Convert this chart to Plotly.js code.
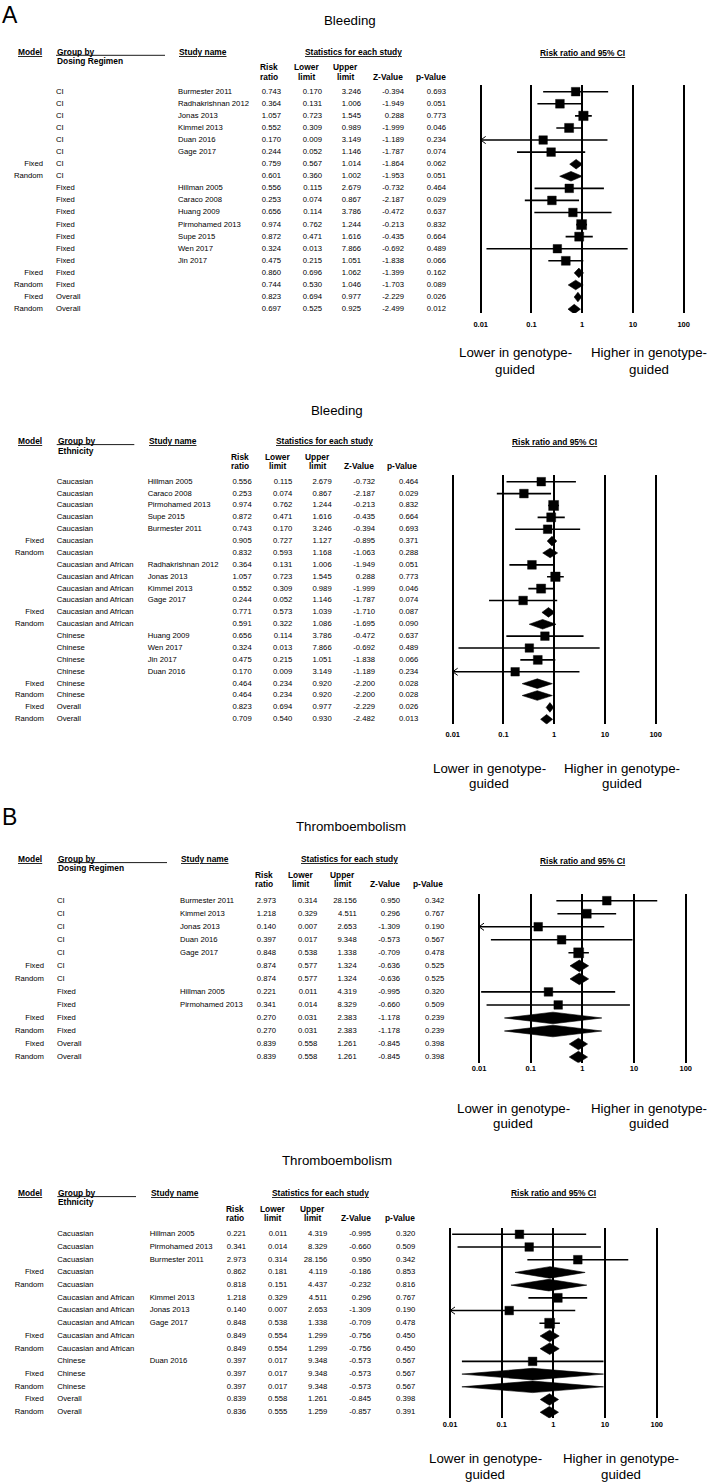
<!DOCTYPE html>
<html><head><meta charset="utf-8">
<script src="https://cdn.plot.ly/plotly-3.0.1.min.js"></script>
<style>html,body{margin:0;padding:0;background:#fff}#chart{width:709px;height:1483px}</style>
</head><body><div id="chart"></div>
<script>
// ===================== DATA =====================
// Panel A (top): Bleeding, grouped by dosing regimen
const a1Model = ['', '', '', '', '', '', 'Fixed', 'Random', '', '', '', '', '', '', '', 'Fixed', 'Random', 'Fixed', 'Random'];
const a1Group = ['CI', 'CI', 'CI', 'CI', 'CI', 'CI', 'CI', 'CI', 'Fixed', 'Fixed', 'Fixed', 'Fixed', 'Fixed', 'Fixed', 'Fixed', 'Fixed', 'Fixed', 'Overall', 'Overall'];
const a1Study = ['Burmester 2011', 'Radhakrishnan 2012', 'Jonas 2013', 'Kimmel 2013', 'Duan 2016', 'Gage 2017', '', '', 'Hillman 2005', 'Caraco 2008', 'Huang 2009', 'Pirmohamed 2013', 'Supe 2015', 'Wen 2017', 'Jin 2017', '', '', '', ''];
const a1RR = [0.743, 0.364, 1.057, 0.552, 0.170, 0.244, 0.759, 0.601, 0.556, 0.253, 0.656, 0.974, 0.872, 0.324, 0.475, 0.860, 0.744, 0.823, 0.697];
const a1Lower = [0.170, 0.131, 0.723, 0.309, 0.009, 0.052, 0.567, 0.360, 0.115, 0.074, 0.114, 0.762, 0.471, 0.013, 0.215, 0.696, 0.530, 0.694, 0.525];
const a1Upper = [3.246, 1.006, 1.545, 0.989, 3.149, 1.146, 1.014, 1.002, 2.679, 0.867, 3.786, 1.244, 1.616, 7.866, 1.051, 1.062, 1.046, 0.977, 0.925];
const a1Z = [-0.394, -1.949, 0.288, -1.999, -1.189, -1.787, -1.864, -1.953, -0.732, -2.187, -0.472, -0.213, -0.435, -0.692, -1.838, -1.399, -1.703, -2.229, -2.499];
const a1P = [0.693, 0.051, 0.773, 0.046, 0.234, 0.074, 0.062, 0.051, 0.464, 0.029, 0.637, 0.832, 0.664, 0.489, 0.066, 0.162, 0.089, 0.026, 0.012];

// Panel A (bottom): Bleeding, grouped by ethnicity
const a2Model = ['', '', '', '', '', 'Fixed', 'Random', '', '', '', '', 'Fixed', 'Random', '', '', '', '', 'Fixed', 'Random', 'Fixed', 'Random'];
const a2Group = ['Caucasian', 'Caucasian', 'Caucasian', 'Caucasian', 'Caucasian', 'Caucasian', 'Caucasian',
  'Caucasian and African', 'Caucasian and African', 'Caucasian and African', 'Caucasian and African', 'Caucasian and African', 'Caucasian and African',
  'Chinese', 'Chinese', 'Chinese', 'Chinese', 'Chinese', 'Chinese', 'Overall', 'Overall'];
const a2Study = ['Hillman 2005', 'Caraco 2008', 'Pirmohamed 2013', 'Supe 2015', 'Burmester 2011', '', '', 'Radhakrishnan 2012', 'Jonas 2013', 'Kimmel 2013', 'Gage 2017', '', '', 'Huang 2009', 'Wen 2017', 'Jin 2017', 'Duan 2016', '', '', '', ''];
const a2RR = [0.556, 0.253, 0.974, 0.872, 0.743, 0.905, 0.832, 0.364, 1.057, 0.552, 0.244, 0.771, 0.591, 0.656, 0.324, 0.475, 0.170, 0.464, 0.464, 0.823, 0.709];
const a2Lower = [0.115, 0.074, 0.762, 0.471, 0.170, 0.727, 0.593, 0.131, 0.723, 0.309, 0.052, 0.573, 0.322, 0.114, 0.013, 0.215, 0.009, 0.234, 0.234, 0.694, 0.540];
const a2Upper = [2.679, 0.867, 1.244, 1.616, 3.246, 1.127, 1.168, 1.006, 1.545, 0.989, 1.146, 1.039, 1.086, 3.786, 7.866, 1.051, 3.149, 0.920, 0.920, 0.977, 0.930];
const a2Z = [-0.732, -2.187, -0.213, -0.435, -0.394, -0.895, -1.063, -1.949, 0.288, -1.999, -1.787, -1.710, -1.695, -0.472, -0.692, -1.838, -1.189, -2.200, -2.200, -2.229, -2.482];
const a2P = [0.464, 0.029, 0.832, 0.664, 0.693, 0.371, 0.288, 0.051, 0.773, 0.046, 0.074, 0.087, 0.090, 0.637, 0.489, 0.066, 0.234, 0.028, 0.028, 0.026, 0.013];

// Panel B (top): Thromboembolism, grouped by dosing regimen
const b1Model = ['', '', '', '', '', 'Fixed', 'Random', '', '', 'Fixed', 'Random', 'Fixed', 'Random'];
const b1Group = ['CI', 'CI', 'CI', 'CI', 'CI', 'CI', 'CI', 'Fixed', 'Fixed', 'Fixed', 'Fixed', 'Overall', 'Overall'];
const b1Study = ['Burmester 2011', 'Kimmel 2013', 'Jonas 2013', 'Duan 2016', 'Gage 2017', '', '', 'Hillman 2005', 'Pirmohamed 2013', '', '', '', ''];
const b1RR = [2.973, 1.218, 0.140, 0.397, 0.848, 0.874, 0.874, 0.221, 0.341, 0.270, 0.270, 0.839, 0.839];
const b1Lower = [0.314, 0.329, 0.007, 0.017, 0.538, 0.577, 0.577, 0.011, 0.014, 0.031, 0.031, 0.558, 0.558];
const b1Upper = [28.156, 4.511, 2.653, 9.348, 1.338, 1.324, 1.324, 4.319, 8.329, 2.383, 2.383, 1.261, 1.261];
const b1Z = [0.950, 0.296, -1.309, -0.573, -0.709, -0.636, -0.636, -0.995, -0.660, -1.178, -1.178, -0.845, -0.845];
const b1P = [0.342, 0.767, 0.190, 0.567, 0.478, 0.525, 0.525, 0.320, 0.509, 0.239, 0.239, 0.398, 0.398];

// Panel B (bottom): Thromboembolism, grouped by ethnicity
const b2Model = ['', '', '', 'Fixed', 'Random', '', '', '', 'Fixed', 'Random', '', 'Fixed', 'Random', 'Fixed', 'Random'];
const b2Group = ['Cacuasian', 'Cacuasian', 'Cacuasian', 'Cacuasian', 'Cacuasian',
  'Caucasian and African', 'Caucasian and African', 'Caucasian and African', 'Caucasian and African', 'Caucasian and African',
  'Chinese', 'Chinese', 'Chinese', 'Overall', 'Overall'];
const b2Study = ['Hillman 2005', 'Pirmohamed 2013', 'Burmester 2011', '', '', 'Kimmel 2013', 'Jonas 2013', 'Gage 2017', '', '', 'Duan 2016', '', '', '', ''];
const b2RR = [0.221, 0.341, 2.973, 0.862, 0.818, 1.218, 0.140, 0.848, 0.849, 0.849, 0.397, 0.397, 0.397, 0.839, 0.836];
const b2Lower = [0.011, 0.014, 0.314, 0.181, 0.151, 0.329, 0.007, 0.538, 0.554, 0.554, 0.017, 0.017, 0.017, 0.558, 0.555];
const b2Upper = [4.319, 8.329, 28.156, 4.119, 4.437, 4.511, 2.653, 1.338, 1.299, 1.299, 9.348, 9.348, 9.348, 1.261, 1.259];
const b2Z = [-0.995, -0.660, 0.950, -0.186, -0.232, 0.296, -1.309, -0.709, -0.756, -0.756, -0.573, -0.573, -0.573, -0.845, -0.857];
const b2P = [0.320, 0.509, 0.342, 0.853, 0.816, 0.767, 0.190, 0.478, 0.450, 0.450, 0.567, 0.567, 0.567, 0.398, 0.391];

// Axis tick labels and text labels
const tickVals = [0.01, 0.1, 1, 10, 100];
const tickLabels = ['0.01', '0.1', '1', '10', '100'];
const colHead1 = ['Risk', 'Lower', 'Upper', '', ''];
const colHead2 = ['ratio', 'limit', 'limit', 'Z-Value', 'p-Value'];

// ===================== LAYOUT (pixel positions) =====================
const W = 709, H = 1483;
const FONT = '"Liberation Sans", Arial, sans-serif';
const px = x => x / W;
const py = y => 1 - y / H;

const panels = [
  { model: a1Model, group: a1Group, study: a1Study, rr: a1RR, lo: a1Lower, hi: a1Upper, z: a1Z, p: a1P,
    title: 'Bleeding', groupHead: 'Dosing Regimen', letter: 'A',
    L: { letterY: 15, titleX: 350, titleY: 20, headY: 51.7, head2Y: 61, colY1: 66.7, colY2: 76.7,
      colX: [269, 306.3, 345.3, 388, 430.5], numRight: [281, 322, 361, 404, 446],
      modelRight: 43, groupX: 56, studyX: 178, groupLineEnd: 165, statX: 353.3,
      rrTitleX: 582.7, rrTitleY: 53.3, f001: 480.7, f100: 683.7, lineTop: 85, lineBot: 313,
      row0: 91.7, rowH: 12.08, tickY: 324, lowerX: 515, higherX: 649, lhY1: 352.7, lhY2: 369.5, diamHalf: 4.8 } },
  { model: a2Model, group: a2Group, study: a2Study, rr: a2RR, lo: a2Lower, hi: a2Upper, z: a2Z, p: a2P,
    title: 'Bleeding', groupHead: 'Ethnicity', letter: null,
    L: { titleX: 336.7, titleY: 410, headY: 441, head2Y: 450.7, colY1: 456.7, colY2: 466,
      colX: [240.3, 277, 317, 358.7, 402], numRight: [251.7, 292.3, 331.7, 375, 418.3],
      modelRight: 44, groupX: 56.7, studyX: 147.7, groupLineEnd: 134.3, statX: 324,
      rrTitleX: 554.3, rrTitleY: 441.7, f001: 452.7, f100: 655.7, lineTop: 475, lineBot: 724.3,
      row0: 481.7, rowH: 11.88, tickY: 734.3, lowerX: 489.2, higherX: 621.7, lhY1: 768.3, lhY2: 783.3, diamHalf: 4.8 } },
  { model: b1Model, group: b1Group, study: b1Study, rr: b1RR, lo: b1Lower, hi: b1Upper, z: b1Z, p: b1P,
    title: 'Thromboembolism', groupHead: 'Dosing Regimen', letter: 'B',
    L: { letterY: 817, titleX: 351.3, titleY: 826, headY: 859, head2Y: 868.3, colY1: 875, colY2: 884.3,
      colX: [264.2, 300.3, 342, 384.7, 428], numRight: [276, 317.3, 356.7, 400, 444.3],
      modelRight: 44, groupX: 57, studyX: 180, groupLineEnd: 167, statX: 349.7,
      rrTitleX: 582.7, rrTitleY: 861, f001: 479, f100: 685.7, lineTop: 894, lineBot: 1062.7,
      row0: 900.7, rowH: 13.03, tickY: 1075, lowerX: 513.3, higherX: 648.8, lhY1: 1108, lhY2: 1123, diamHalf: 5.8 } },
  { model: b2Model, group: b2Group, study: b2Study, rr: b2RR, lo: b2Lower, hi: b2Upper, z: b2Z, p: b2P,
    title: 'Thromboembolism', groupHead: 'Ethnicity', letter: null,
    L: { titleX: 336.7, titleY: 1160.7, headY: 1193, head2Y: 1202.3, colY1: 1209, colY2: 1218.3,
      colX: [234.5, 272, 312, 355.5, 399.7], numRight: [246, 287.3, 327.3, 371, 415.3],
      modelRight: 43.7, groupX: 57.3, studyX: 149.7, groupLineEnd: 136, statX: 320.3,
      rrTitleX: 553.3, rrTitleY: 1193.3, f001: 450, f100: 656.7, lineTop: 1227.7, lineBot: 1418.3,
      row0: 1234.3, rowH: 12.71, tickY: 1430, lowerX: 485, higherX: 620.8, lhY1: 1458.3, lhY2: 1474.3, diamHalf: 5.8 } }
];

const traces = [];
const annotations = [];
const shapes = [];
const layout = {
  width: W, height: H, autosize: false,
  margin: { l: 0, r: 0, t: 0, b: 0, pad: 0 },
  paper_bgcolor: '#ffffff', plot_bgcolor: 'rgba(0,0,0,0)',
  showlegend: false, hovermode: false,
  colorway: ['#000000'],
  font: { family: FONT, color: '#000000' }
};

const headSize = 8.4;

function ann(text, x, y, xanchor, size) {
  annotations.push({
    text: text, xref: 'paper', yref: 'paper', x: px(x), y: py(y),
    xanchor: xanchor, yanchor: 'middle', showarrow: false, borderpad: 0,
    font: { family: FONT, size: size, color: '#000000' }
  });
}

panels.forEach((P, k) => {
  const L = P.L;
  const xfName = k === 0 ? 'xaxis' : 'xaxis' + (k + 1);
  const yfName = k === 0 ? 'yaxis' : 'yaxis' + (k + 1);
  const xf = 'x' + (k + 1), yf = 'y' + (k + 1), xt = 'x' + (k + 5);
  const dec = (L.f100 - L.f001) / 4;
  const rows = P.rr.map((_, i) => i);

  // ---- axes ----
  layout[xfName] = {
    type: 'log', domain: [px(L.f001 - 0.2 * dec), px(L.f100 + 0.2 * dec)], range: [-2.2, 2.2],
    anchor: yf, tickmode: 'array', tickvals: tickVals, ticktext: tickLabels.map(t => '<b>' + t + '</b>'),
    showgrid: true, gridcolor: '#000000', gridwidth: 2, zeroline: false, showline: false,
    ticks: '', ticklabelstandoff: Math.max(0, L.tickY - L.lineBot - 6),
    tickfont: { family: FONT, size: 7.5, color: '#000000' }, fixedrange: true
  };
  layout[yfName] = {
    domain: [py(L.lineBot), py(L.lineTop)],
    range: [(L.lineBot - L.row0) / L.rowH, (L.lineTop - L.row0) / L.rowH],
    anchor: xf, visible: false, showgrid: false, zeroline: false, fixedrange: true
  };
  layout['xaxis' + (k + 5)] = { domain: [0, 1], range: [0, W], anchor: yf, visible: false, showgrid: false, zeroline: false, fixedrange: true };

  // ---- table text ----
  const textTrace = (xpos, txt, pos) => ({
    type: 'scatter', mode: 'text', xaxis: xt, yaxis: yf, opacity: 1,
    x: rows.map(() => xpos), y: rows, text: txt, textposition: pos,
    textfont: { family: FONT, size: 7.7, color: '#000000' }, cliponaxis: false, hoverinfo: 'skip'
  });
  traces.push(textTrace(L.modelRight, P.model, 'middle left'));
  traces.push(textTrace(L.groupX, P.group, 'middle right'));
  traces.push(textTrace(L.studyX, P.study, 'middle right'));
  [P.rr, P.lo, P.hi, P.z, P.p].forEach((arr, c) => {
    traces.push(textTrace(L.numRight[c], arr.map(v => v.toFixed(3)), 'middle left'));
  });

  // ---- forest marks ----
  const isStudy = P.model.map(m => m === '');
  const se = rows.map(i => (Math.log(P.hi[i]) - Math.log(P.lo[i])) / 3.92);
  const w = se.map(s => 1 / (s * s));
  const wMax = Math.max(...rows.filter(i => isStudy[i]).map(i => w[i]));
  const lx = [], ly = [], ax = [], ay = [], sx = [], sy = [], ss = [], dx = [], dy = [];
  const dh = L.diamHalf / L.rowH;
  const arrowF = Math.pow(10, 5 / dec), arrowH = 3.6 / L.rowH;
  rows.forEach(i => {
    if (isStudy[i]) {
      const lo = Math.max(P.lo[i], tickVals[0]);
      lx.push(lo, P.hi[i], null); ly.push(i, i, null);
      if (P.lo[i] < tickVals[0]) {
        ax.push(lo * arrowF, lo, lo * arrowF, null);
        ay.push(i - arrowH, i, i + arrowH, null);
      }
      sx.push(P.rr[i]); sy.push(i); ss.push(8.4 + 1.6 * Math.sqrt(w[i] / wMax));
    } else {
      dx.push(P.lo[i], P.rr[i], P.hi[i], P.rr[i], P.lo[i], null);
      dy.push(i, i - dh, i, i + dh, i, null);
    }
  });
  traces.push({ type: 'scatter', mode: 'lines', xaxis: xf, yaxis: yf, x: lx, y: ly, opacity: 1,
    line: { color: '#000000', width: 1.6 }, hoverinfo: 'skip', cliponaxis: false });
  traces.push({ type: 'scatter', mode: 'lines', xaxis: xf, yaxis: yf, x: ax, y: ay, opacity: 1,
    line: { color: '#000000', width: 1 }, hoverinfo: 'skip', cliponaxis: false });
  traces.push({ type: 'scatter', mode: 'markers', xaxis: xf, yaxis: yf, x: sx, y: sy, opacity: 1,
    marker: { symbol: 'square', size: ss, color: '#000000', opacity: 1, line: { width: 0.4, color: '#000000' } },
    hoverinfo: 'skip', cliponaxis: false });
  traces.push({ type: 'scatter', mode: 'lines', xaxis: xf, yaxis: yf, x: dx, y: dy, fill: 'toself', opacity: 1,
    fillcolor: '#000000', line: { color: '#000000', width: 0.6 }, hoverinfo: 'skip', cliponaxis: false });

  // ---- headers & labels ----
  if (P.letter) ann(P.letter, 1, L.letterY, 'left', 23);
  ann(P.title, L.titleX, L.titleY, 'center', 13.3);
  ann('<b><u>Model</u></b>', 16.7, L.headY, 'left', headSize);
  ann('<b>Group by</b>', L.groupX, L.headY, 'left', headSize);
  ann('<b>' + P.groupHead + '</b>', L.groupX, L.head2Y, 'left', headSize);
  ann('<b><u>Study name</u></b>', L.studyX, L.headY, 'left', headSize);
  ann('<b><u>Statistics for each study</u></b>', L.statX, L.headY, 'center', headSize);
  ann('<b><u>Risk ratio and 95% CI</u></b>', L.rrTitleX, L.rrTitleY, 'center', headSize);
  colHead1.forEach((t, c) => { if (t) ann('<b>' + t + '</b>', L.colX[c], L.colY1, 'center', headSize); });
  colHead2.forEach((t, c) => { ann('<b>' + t + '</b>', L.colX[c], L.colY2, 'center', headSize); });
  shapes.push({ type: 'line', xref: 'paper', yref: 'paper', x0: px(L.groupX), x1: px(L.groupLineEnd),
    y0: py(L.headY + 3.6), y1: py(L.headY + 3.6), line: { color: '#000000', width: 0.9 } });
  ann('Lower in genotype-', L.lowerX, L.lhY1, 'center', 13.3);
  ann('guided', L.lowerX, L.lhY2, 'center', 13.3);
  ann('Higher in genotype-', L.higherX, L.lhY1, 'center', 13.3);
  ann('guided', L.higherX, L.lhY2, 'center', 13.3);
});

layout.annotations = annotations;
layout.shapes = shapes;

Plotly.newPlot('chart', traces, layout, { staticPlot: true, displayModeBar: false, responsive: false });
</script>
</body></html>
